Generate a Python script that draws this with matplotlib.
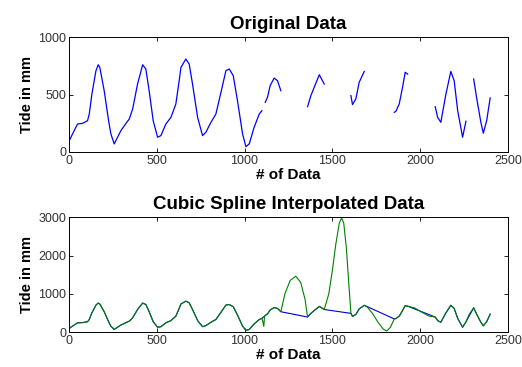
import matplotlib
matplotlib.use("agg")
import matplotlib.pyplot as plt
import numpy as np

# original tide record, NaN marks the missing stretches
sample_idx = [2, 30, 49, 78, 106, 116, 131, 154, 167, 176, 201, 226, 239, 258, 277, 296,
              325, 344, 363, 391, 420, 438, 457, 480, 505, 524, 552, 581, 609, 628, 638,
              666, 685, 704, 733, 761, 780, 809, 837, 866, 894, 913, 936, 960, 989, 1008,
              1027, 1055, 1084, 1099, 1108, 1118, 1131, 1146, 1169, 1188, 1207, 1280,
              1359, 1378, 1397, 1426, 1454, 1530,
              1606, 1615, 1634, 1653, 1682, 1770,
              1853, 1862, 1881, 1900, 1915, 1929, 2000,
              2086, 2100, 2118, 2147, 2175, 2194, 2214, 2242, 2261, 2280,
              2305, 2323, 2346, 2360, 2379, 2399]
tide_mm = [98, 185, 243, 249, 272, 330, 504, 707, 759, 735, 533, 272, 157, 70, 128, 185,
           249, 287, 374, 591, 759, 722, 533, 272, 128, 142, 243, 301, 417, 620, 736,
           809, 765, 591, 301, 142, 171, 258, 330, 519, 707, 722, 664, 446, 157, 46,
           70, 215, 330, 359, np.nan, 432, 476, 577, 643, 620, 533, np.nan,
           394, 490, 563, 672, 591, np.nan,
           490, 412, 461, 606, 701, np.nan,
           345, 354, 417, 563, 693, 678, np.nan,
           394, 301, 258, 504, 701, 620, 359, 128, 267, np.nan,
           635, 461, 258, 163, 272, 470]

# cubic spline values read inside the gaps
gap_idx = [1103, 1110, 1114,
           1230, 1260, 1292, 1320, 1345,
           1480, 1500, 1520, 1540, 1553, 1565, 1580, 1595,
           1700, 1730, 1760, 1790, 1810, 1830,
           1970, 2010, 2050,
           2280]
gap_mm = [300, 150, 420,
          1000, 1350, 1460, 1300, 850,
          1000, 1600, 2300, 2850, 2980, 2850, 2200, 1200,
          650, 480, 260, 80, 30, 120,
          630, 520, 420,
          470]

x = np.array(sample_idx, dtype=float)
y = np.array(tide_mm, dtype=float)
ok = ~np.isnan(y)

xs = np.concatenate([x[ok], gap_idx])
ys = np.concatenate([y[ok], gap_mm])
order = np.argsort(xs)
xs, ys = xs[order], ys[order]

plt.rcParams['font.family'] = ['Liberation Sans', 'DejaVu Sans']

fig = plt.figure(figsize=(5.22, 3.67), dpi=100)
ax1 = fig.add_axes([0.132, 0.586, 0.841, 0.313])
ax2 = fig.add_axes([0.132, 0.095, 0.841, 0.313])

ax1.plot(x, y, color=(0, 0, 1), lw=0.9)
ax1.set_xlim(0, 2500)
ax1.set_ylim(0, 1000)
ax1.set_yticks([0, 500, 1000])
ax1.set_title("Original Data", fontsize=13.5, fontweight="bold", pad=6)

ax2.plot(x[ok], y[ok], color=(0, 0, 0.8), lw=0.8)
ax2.plot(xs, ys, color=(0, 0.5, 0), lw=0.8)
ax2.set_xlim(0, 2500)
ax2.set_ylim(0, 3000)
ax2.set_yticks([0, 1000, 2000, 3000])
ax2.set_title("Cubic Spline Interpolated Data", fontsize=13.5, fontweight="bold", pad=6)

for ax in (ax1, ax2):
    ax.set_xticks([0, 500, 1000, 1500, 2000, 2500])
    ax.tick_params(direction="in", top=True, right=True, length=3, width=0.6,
                   labelsize=9, labelcolor="#333333", pad=2)
    ax.set_xlabel("# of Data", fontsize=11, fontweight="bold", labelpad=1)
    ax.set_ylabel("Tide in mm", fontsize=10.5, fontweight="bold", labelpad=3)
    for s in ax.spines.values():
        s.set_linewidth(0.7)

fig.savefig("out.png", dpi=100)
